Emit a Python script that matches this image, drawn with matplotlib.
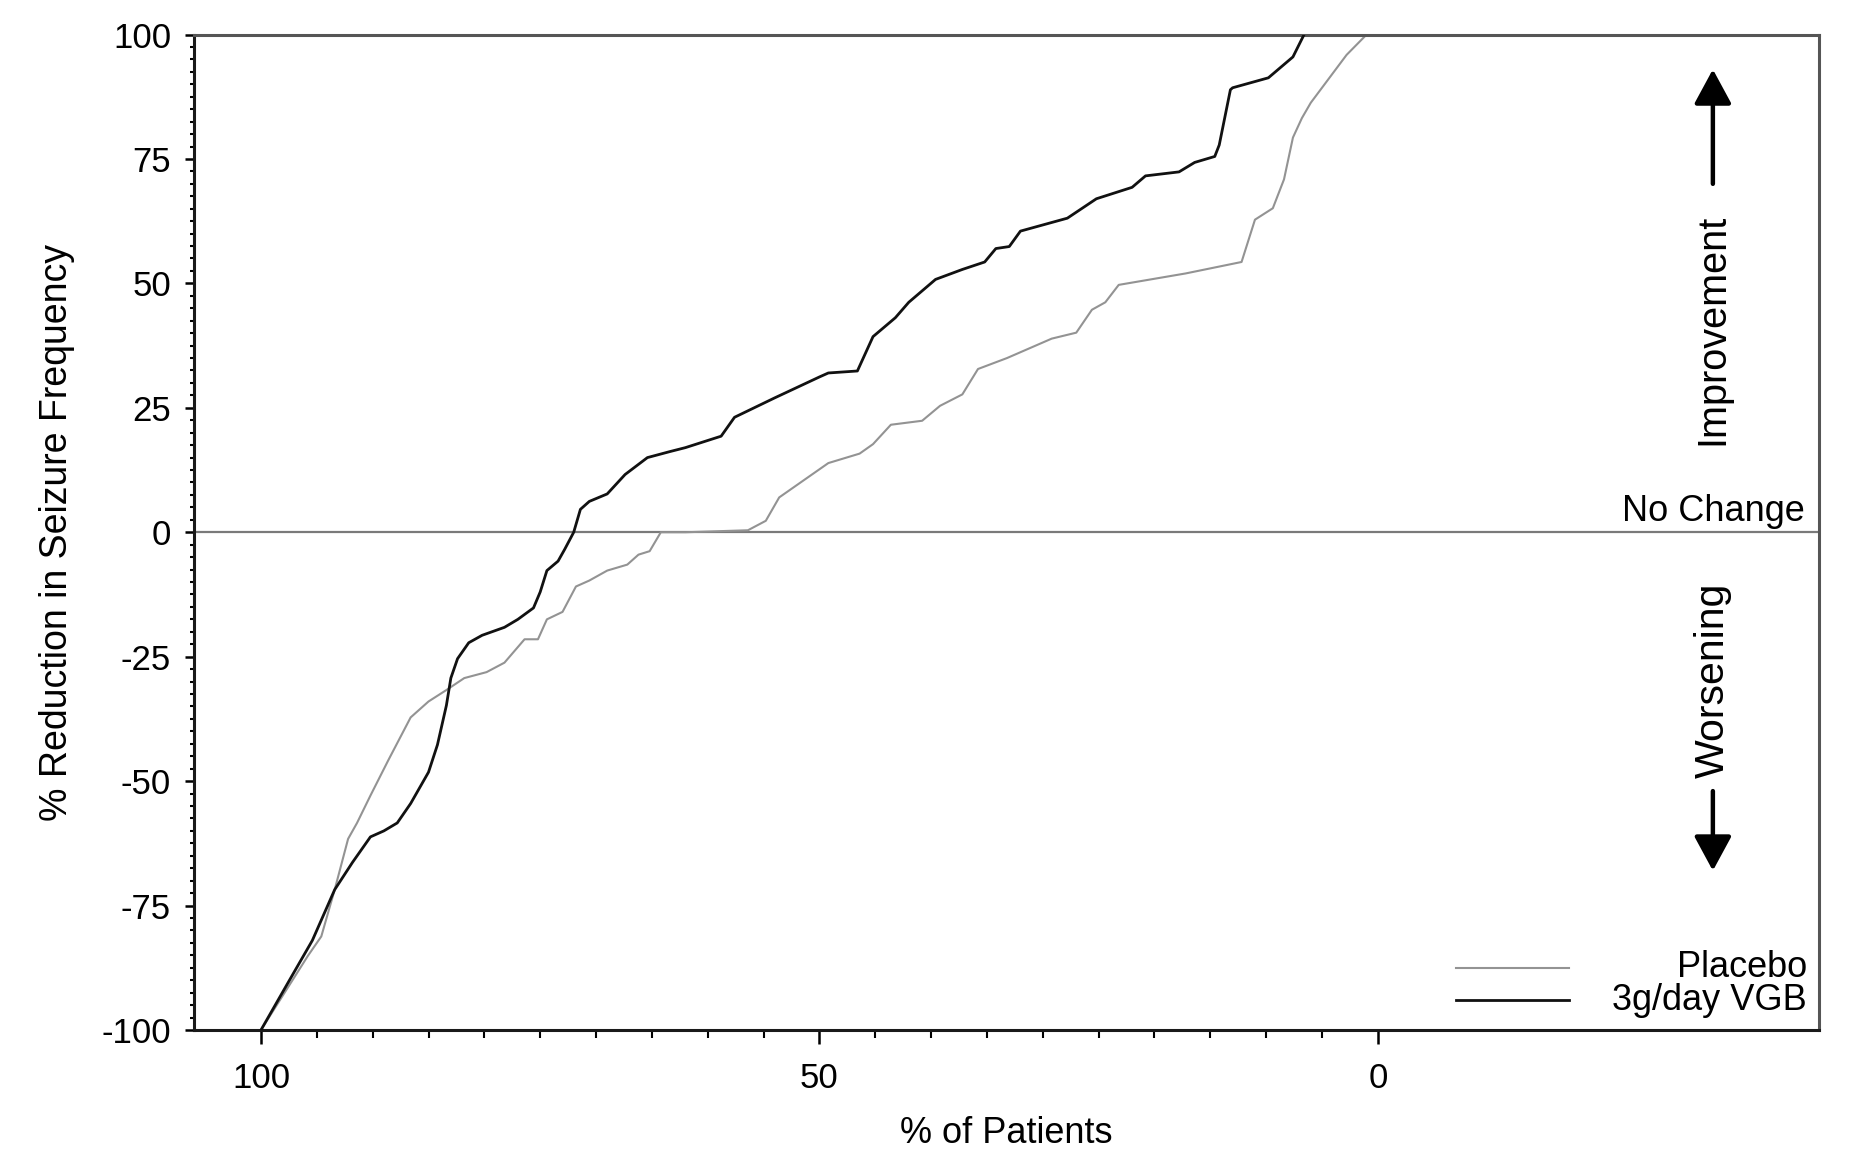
import matplotlib
matplotlib.use('Agg')
import matplotlib.pyplot as plt
from matplotlib.ticker import MultipleLocator, FixedLocator
from matplotlib.lines import Line2D

plt.rcParams['font.family'] = ['Liberation Sans', 'DejaVu Sans']
plt.rcParams['axes.unicode_minus'] = False

# data (cumulative % reduction vs % of patients)
placebo_pct = [100, 97.8, 95.8, 94.6, 93.4, 92.2, 91.4, 90.2, 88.6, 86.6, 85.0, 83.4,
               81.8, 79.8, 78.2, 76.4, 75.2, 74.4, 73.0, 71.8, 70.6, 69.0, 67.2, 66.2,
               65.2, 64.2, 62.0, 56.4, 54.8, 53.6, 49.2, 46.4, 45.2, 43.6, 40.8, 39.2,
               37.2, 35.8, 33.2, 29.2, 27.0, 25.6, 24.4, 23.2, 17.2, 12.2, 11.0, 9.4,
               8.4, 7.6, 6.8, 6.0, 2.8, 1.0]
placebo_val = [-100, -92.2, -85.1, -81.2, -71.8, -61.6, -58.4, -52.9, -45.8, -37.2, -34.0, -31.7,
               -29.3, -28.1, -26.2, -21.5, -21.5, -17.5, -16.0, -10.9, -9.7, -7.7, -6.5, -4.5,
               -3.8, 0.0, 0.0, 0.4, 2.3, 7.0, 13.9, 15.8, 17.7, 21.6, 22.4, 25.4,
               27.7, 32.8, 35.0, 38.9, 40.1, 44.7, 46.2, 49.7, 52.0, 54.3, 62.8, 65.1,
               70.9, 79.3, 83.2, 86.3, 95.9, 100]

vgb_pct = [100, 97.4, 95.4, 93.4, 91.8, 90.2, 89.0, 87.8, 86.6, 85.0, 84.2, 83.4,
           83.0, 82.4, 81.4, 80.2, 78.2, 77.0, 75.6, 75.0, 74.4, 73.4, 72.8, 72.0,
           71.4, 70.6, 69.0, 67.4, 65.4, 63.4, 62.0, 58.8, 57.6, 54.0, 50.0, 49.2,
           46.6, 45.2, 43.2, 42.0, 39.6, 37.2, 35.2, 34.2, 33.0, 32.0, 27.8, 25.2,
           22.0, 20.8, 17.8, 16.4, 14.6, 14.2, 13.2, 13.0, 9.8, 7.6, 6.6]
vgb_val = [-100, -89.8, -82.0, -71.8, -66.3, -61.2, -60.0, -58.4, -54.5, -48.2, -42.7, -34.8,
           -29.3, -25.4, -22.2, -20.7, -19.1, -17.5, -15.2, -12.0, -7.7, -5.8, -3.4, 0.0,
           4.6, 6.2, 7.7, 11.6, 15.0, 16.2, 17.0, 19.3, 23.1, 27.0, 31.2, 32.0,
           32.4, 39.3, 43.1, 46.2, 50.8, 52.8, 54.3, 57.0, 57.4, 60.5, 63.1, 67.0,
           69.3, 71.6, 72.4, 74.3, 75.5, 77.8, 88.9, 89.3, 91.3, 95.5, 100]

series_names = ['Placebo', '3g/day VGB']
x_ticks = [100, 50, 0]
y_ticks = [-100, -75, -50, -25, 0, 25, 50, 75, 100]

fig = plt.figure(figsize=(18.76, 11.62), dpi=100)
ax = fig.add_axes([0.1034, 0.1136, 0.8662, 0.8567])

ax.axhline(0, color='#7a7a7a', lw=1.6, zorder=1)
ax.plot(placebo_pct, placebo_val, color='#939393', lw=1.5, zorder=2)
ax.plot(vgb_pct, vgb_val, color='#111111', lw=2.0, zorder=3)

ax.set_xlim(106, -39.5)
ax.set_ylim(-100, 100)

ax.set_xticks(x_ticks)
ax.set_xticklabels([str(t) for t in x_ticks])
ax.xaxis.set_minor_locator(FixedLocator(list(range(0, 101, 5))))
ax.set_yticks(y_ticks)
ax.set_yticklabels([str(t) for t in y_ticks])
ax.yaxis.set_minor_locator(MultipleLocator(2.5))

ax.tick_params(axis='x', which='major', length=10, width=1.8, pad=13, labelsize=25)
ax.tick_params(axis='x', which='minor', length=5.6, width=1.5)
ax.tick_params(axis='y', which='major', length=6.5, width=1.8, pad=10, labelsize=25)
ax.tick_params(axis='y', which='minor', length=3.2, width=1.5)

for s in ['left', 'bottom']:
    ax.spines[s].set_linewidth(2.2)
    ax.spines[s].set_color('#1a1a1a')
for s in ['top', 'right']:
    ax.spines[s].set_linewidth(2.2)
    ax.spines[s].set_color('#555555')

ax.set_xlabel('% of Patients', fontsize=26, labelpad=15)
ax.set_ylabel('% Reduction in Seizure Frequency', fontsize=27, labelpad=19)

# direction annotations on the right
ax.text(-38.2, 2.3, 'No Change', fontsize=26, ha='right', va='baseline')
ax.text(-30, 40.8, 'Improvement', fontsize=28.5, rotation=90, ha='center', va='center')
ax.text(-30, -29.8, 'Worsening', fontsize=29.5, rotation=90, ha='center', va='center')
arrow = dict(arrowstyle='-|>,head_length=0.85,head_width=0.46', lw=3.2,
             color='black', mutation_scale=25, shrinkA=0, shrinkB=0)
ax.annotate('', xy=(-30, 93), xytext=(-30, 70), arrowprops=arrow)
ax.annotate('', xy=(-30, -68), xytext=(-30, -52), arrowprops=arrow)

# legend: keys share a left edge, labels right-aligned
leg_colors = ['#939393', '#111111']
leg_widths = [1.5, 2.0]
leg_y = [0.0623, 0.0301]
for name, c, w, y in zip(series_names, leg_colors, leg_widths, leg_y):
    ax.add_line(Line2D([0.7766, 0.8462], [y, y], transform=ax.transAxes, color=c, lw=w))
    ax.text(0.9926, y, name, transform=ax.transAxes, fontsize=26, ha='right', va='center')

fig.savefig('out.png', dpi=100)
